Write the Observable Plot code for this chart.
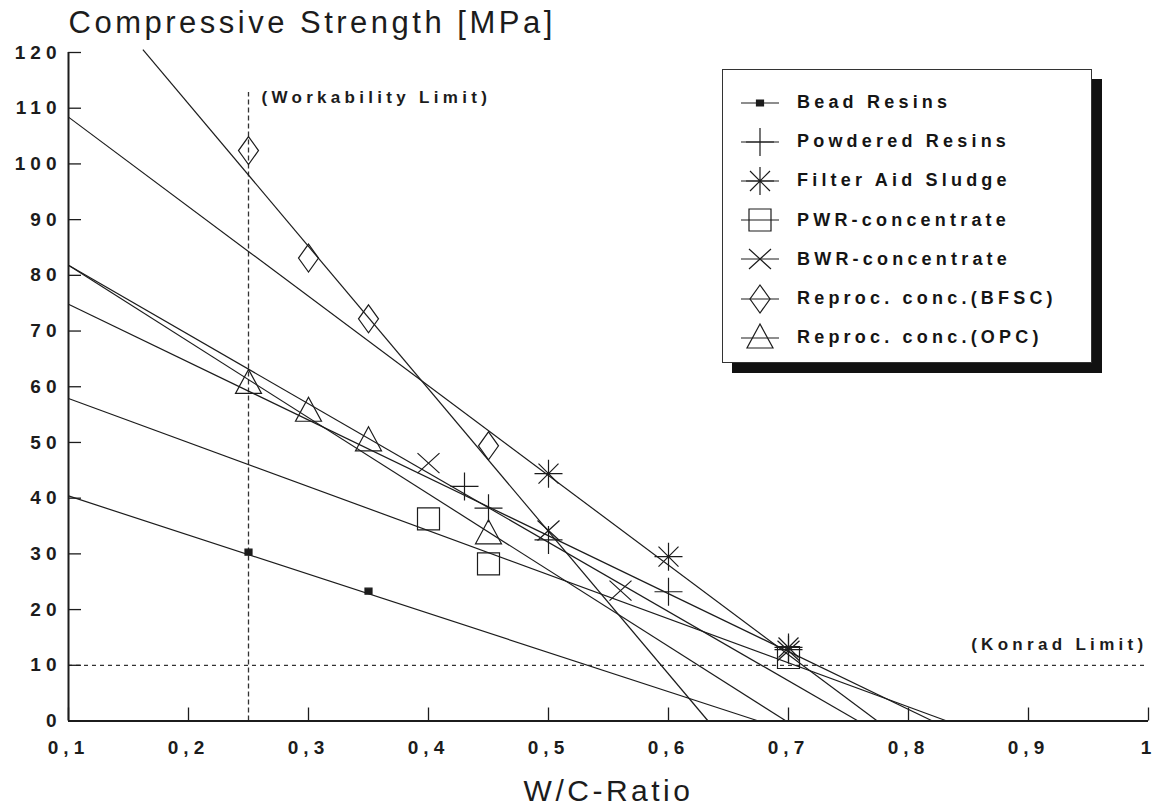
<!DOCTYPE html>
<html><head><meta charset="utf-8">
<script src="https://cdn.jsdelivr.net/npm/d3@7"></script>
<script src="https://cdn.jsdelivr.net/npm/@observablehq/plot@0.6"></script>
<style>
body{margin:0;background:#fff;}
#wrap{position:relative;width:1155px;height:810px;overflow:hidden;}
#legend{position:absolute;left:722px;top:69px;width:370px;height:294px;box-sizing:border-box;border:1.5px solid #333;background:#fff;box-shadow:10px 10px 0 #111;padding-top:13px;font-family:"Liberation Sans",Arial,sans-serif;font-weight:bold;font-size:18px;letter-spacing:4.2px;color:#151515;}
.row{height:39.2px;display:flex;align-items:center;}
.row svg{margin-left:16px;margin-right:16px;flex:none;}
</style></head><body><div id="wrap"></div>
<script>
// ---- data ----
const series = ["Bead Resins", "Powdered Resins", "Filter Aid Sludge", "PWR-concentrate", "BWR-concentrate", "Reproc. conc.(BFSC)", "Reproc. conc.(OPC)"];
const symbolKeys = ["bead", "plus", "asterisk", "square", "cross", "diamond", "triangle"];
// measured points per series
const pointsX = [
  [0.25, 0.35],
  [0.43, 0.45, 0.5, 0.6, 0.7],
  [0.5, 0.6, 0.7],
  [0.4, 0.45, 0.7],
  [0.4, 0.5, 0.56, 0.7],
  [0.25, 0.3, 0.35, 0.45],
  [0.25, 0.3, 0.35, 0.45]
];
const pointsY = [
  [30.3, 23.3],
  [42.1, 38.2, 32.5, 23.2, 12.8],
  [44.4, 29.5, 13.2],
  [36.3, 28.2, 11.4],
  [46.3, 34.2, 23.4, 12.6],
  [102.4, 83.1, 72.2, 49.4],
  [60.6, 55.6, 50.3, 33.6]
];
// fitted regression lines: start point and zero crossing
const lineX1 = [0.1, 0.1, 0.1, 0.1, 0.1, 0.162, 0.1];
const lineY1 = [40.4, 74.8, 108.4, 57.9, 81.8, 120.5, 81.8];
const lineX2 = [0.675, 0.820, 0.774, 0.832, 0.758, 0.633, 0.698];
const lineY2 = [0, 0, 0, 0, 0, 0, 0];
// axes
const xTicks = [0.1, 0.2, 0.3, 0.4, 0.5, 0.6, 0.7, 0.8, 0.9, 1];
const yTicks = [0, 10, 20, 30, 40, 50, 60, 70, 80, 90, 100, 110, 120];
const workabilityX = [0.25];
const workabilityTop = [112.8];
const konradY = [10];
const annotations = [
  {text: "(Workability Limit)", x: 0.25, y: 112},
  {text: "(Konrad Limit)", x: 1, y: 10}
];
const titleText = "Compressive Strength [MPa]";
const xLabelText = "W/C-Ratio";

// ---- symbols ----
const shapes = {
  bead: c => { c.rect(-3.5, -3, 7, 6); },
  plus: c => { c.moveTo(-14, 0); c.lineTo(14, 0); c.moveTo(0, -14); c.lineTo(0, 14); },
  asterisk: c => { c.moveTo(-14, 0); c.lineTo(14, 0); c.moveTo(0, -14); c.lineTo(0, 14);
    c.moveTo(-10, -10); c.lineTo(10, 10); c.moveTo(-10, 10); c.lineTo(10, -10); },
  square: c => { c.rect(-11, -11, 22, 22); },
  cross: c => { c.moveTo(-11, -10); c.lineTo(11, 10); c.moveTo(-11, 10); c.lineTo(11, -10); },
  diamond: c => { c.moveTo(0, -14); c.lineTo(10, 0); c.lineTo(0, 14); c.lineTo(-10, 0); c.closePath(); },
  triangle: c => { c.moveTo(0, -14); c.lineTo(13, 10); c.lineTo(-13, 10); c.closePath(); }
};
const symbolObj = k => ({draw(context) { shapes[k](context); }});

const points = series.flatMap((s, i) => pointsX[i].map((x, j) => ({series: s, x, y: pointsY[i][j]})));
const lines = series.map((s, i) => ({series: s, x1: lineX1[i], y1: lineY1[i], x2: lineX2[i], y2: lineY2[i]}));

const ink = "#1c1c1c";
const fmt = d => String(d).replace(".", ",");

const dotMarks = series.map((s, i) => Plot.dot(points.filter(p => p.series === s), {
  x: "x", y: "y", symbol: symbolObj(symbolKeys[i]), r: 5,
  stroke: ink, strokeWidth: 1.2, fill: symbolKeys[i] === "bead" ? ink : "none"
}));

const chart = Plot.plot({
  width: 1155, height: 810,
  marginLeft: 68, marginRight: 7, marginTop: 52, marginBottom: 89.5,
  x: {domain: [0.1, 1], axis: null},
  y: {domain: [0, 120], axis: null},
  style: {fontFamily: '"Liberation Sans", Arial, sans-serif', fontWeight: "bold", color: ink, background: "#fff", overflow: "visible"},
  marks: [
    Plot.ruleY(konradY, {stroke: "#333", strokeWidth: 1.3, strokeDasharray: "4,4"}),
    Plot.ruleX(workabilityX, {y1: 0, y2: workabilityTop, stroke: "#333", strokeWidth: 1.3, strokeDasharray: "5,3"}),
    Plot.link(lines, {x1: "x1", y1: "y1", x2: "x2", y2: "y2", stroke: ink, strokeWidth: 1.2}),
    ...dotMarks,
    Plot.ruleX([0.1], {stroke: ink, strokeWidth: 2}),
    Plot.ruleY([0], {stroke: ink, strokeWidth: 2}),
    Plot.axisY({ticks: yTicks, tickSize: -13, tickPadding: 20, tickFormat: d => d, fontSize: 19, fontWeight: "bold", label: null, strokeWidth: 1.3}),
    Plot.axisX({ticks: xTicks, tickSize: -13, tickPadding: 32, tickFormat: fmt, fontSize: 19, fontWeight: "bold", label: null, dx: 0, strokeWidth: 1.3}),
    Plot.text(annotations.slice(0, 1), {x: "x", y: "y", text: "text", textAnchor: "start", dx: 13, fontSize: 17, fontWeight: "bold"}),
    Plot.text(annotations.slice(1), {x: "x", y: "y", text: "text", textAnchor: "end", dx: -1, dy: -21, fontSize: 17, fontWeight: "bold"}),
    Plot.text([titleText], {frameAnchor: "top-left", textAnchor: "start", lineAnchor: "middle", dx: 0, dy: -29, fontSize: 31, fontWeight: "normal"}),
    Plot.text([xLabelText], {frameAnchor: "bottom", lineAnchor: "middle", dy: 70, dx: 0, fontSize: 30, fontWeight: "normal"})
  ]
});

// letter spacing by text role
const tickSet = new Set([...xTicks.map(fmt), ...yTicks.map(String)]);
chart.querySelectorAll("text").forEach(t => {
  const s = t.textContent;
  let ls = null;
  if (tickSet.has(s)) ls = "5px";
  else if (s === annotations[0].text || s === annotations[1].text) ls = "4.3px";
  else if (s === titleText) ls = "3.5px";
  else if (s === xLabelText) ls = "3.5px";
  if (ls) t.style.letterSpacing = ls;
});

const wrap = document.getElementById("wrap");
wrap.appendChild(chart);

// ---- legend ----
const legend = document.createElement("div");
legend.id = "legend";
series.forEach((s, i) => {
  const row = document.createElement("div");
  row.className = "row";
  const svg = d3.create("svg").attr("width", 42).attr("height", 36);
  const g = svg.append("g").attr("transform", "translate(21,18)");
  g.append("line").attr("x1", -19).attr("x2", 19).attr("stroke", ink).attr("stroke-width", 1.2);
  const p = d3.path();
  shapes[symbolKeys[i]](p);
  g.append("path").attr("d", p.toString()).attr("stroke", ink).attr("stroke-width", 1.2)
    .attr("fill", symbolKeys[i] === "bead" ? ink : "none");
  row.appendChild(svg.node());
  const t = document.createElement("span");
  t.textContent = s;
  row.appendChild(t);
  legend.appendChild(row);
});
wrap.appendChild(legend);
</script>
</body></html>
